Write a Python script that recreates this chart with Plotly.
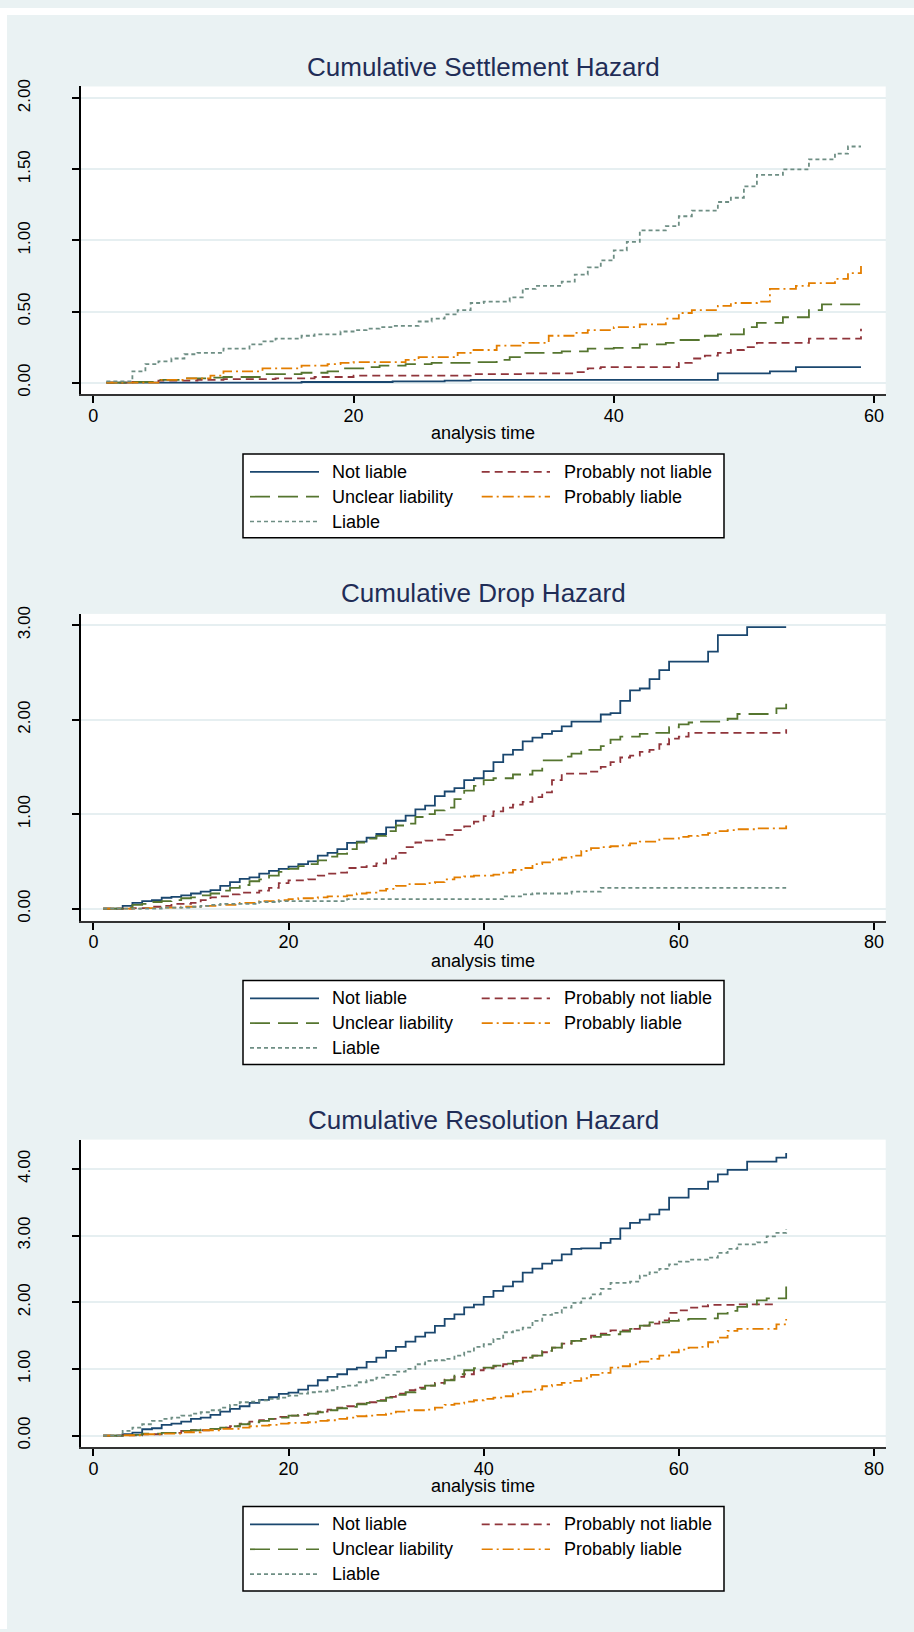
import plotly.graph_objects as go

W, H = 914, 1632
FONT = "Liberation Sans, Arial, sans-serif"

# ---------------- data ----------------
series_names = ["Not liable", "Probably not liable", "Unclear liability",
                "Probably liable", "Liable"]
series_colors = ["#1a476f", "#90353b", "#55752f", "#e37e00", "#6e8e84"]
series_dashes = ["solid", "8px,5px", "20px,8px", "11px,4px,2px,4px", "4px,3px"]

panel_titles = ["Cumulative Settlement Hazard", "Cumulative Drop Hazard",
                "Cumulative Resolution Hazard"]
x_title = "analysis time"

x_ticks_settle = [0, 20, 40, 60]
x_ticks_drop = [0, 20, 40, 60, 80]
x_ticks_resol = [0, 20, 40, 60, 80]
y_ticks_settle = [0, 0.5, 1.0, 1.5, 2.0]
y_ticks_drop = [0, 1, 2, 3]
y_ticks_resol = [0, 1, 2, 3, 4]

# (analysis time, cumulative hazard) step points
settle_not_liable = [(1, 0), (16, 0.005), (23, 0.01), (27, 0.015), (29, 0.02),
                     (48, 0.065), (52, 0.08), (54, 0.11), (59, 0.11)]
settle_prob_not = [(1, 0), (3, 0.005), (5, 0.015), (8, 0.02), (10, 0.025), (14, 0.03),
                   (17, 0.04), (20, 0.05), (29, 0.06), (33, 0.065), (37, 0.075),
                   (38, 0.10), (39, 0.11), (45, 0.14), (46, 0.17), (47, 0.19),
                   (48, 0.21), (49, 0.23), (50, 0.25), (51, 0.28), (55, 0.31), (59, 0.38)]
settle_unclear = [(1, 0), (3, 0.005), (5, 0.02), (7, 0.03), (9, 0.035), (10, 0.04),
                  (13, 0.06), (16, 0.07), (18, 0.08), (19, 0.10), (21, 0.11), (22, 0.12),
                  (24, 0.13), (26, 0.14), (29, 0.145), (31, 0.16), (32, 0.18), (33, 0.21),
                  (36, 0.22), (38, 0.24), (40, 0.245), (42, 0.27), (44, 0.28), (45, 0.30),
                  (47, 0.33), (48, 0.34), (50, 0.39), (51, 0.42), (53, 0.46), (55, 0.51),
                  (56, 0.55), (59, 0.55)]
settle_prob_liable = [(1, 0), (5, 0.02), (7, 0.03), (9, 0.05), (10, 0.08), (13, 0.10),
                      (16, 0.12), (18, 0.13), (19, 0.14), (20, 0.145), (24, 0.16),
                      (25, 0.18), (28, 0.21), (29, 0.23), (31, 0.26), (33, 0.28),
                      (35, 0.33), (37, 0.35), (38, 0.37), (40, 0.39), (42, 0.41),
                      (44, 0.45), (45, 0.49), (46, 0.51), (48, 0.54), (49, 0.56),
                      (51, 0.57), (52, 0.66), (54, 0.68), (55, 0.70), (57, 0.73),
                      (58, 0.77), (59, 0.82)]
settle_liable = [(1, 0.01), (3, 0.08), (4, 0.13), (5, 0.15), (6, 0.17), (7, 0.20), (8, 0.21),
                 (10, 0.24), (12, 0.27), (13, 0.29), (14, 0.31), (16, 0.33), (17, 0.34),
                 (19, 0.36), (20, 0.37), (21, 0.38), (22, 0.39), (23, 0.40), (25, 0.43),
                 (26, 0.45), (27, 0.48), (28, 0.51), (29, 0.56), (30, 0.57), (32, 0.60),
                 (33, 0.66), (34, 0.68), (36, 0.71), (37, 0.76), (38, 0.81), (39, 0.86),
                 (40, 0.93), (41, 0.99), (42, 1.07), (44, 1.10), (45, 1.17), (46, 1.21),
                 (48, 1.27), (49, 1.30), (50, 1.38), (51, 1.46), (53, 1.50), (55, 1.57),
                 (57, 1.61), (58, 1.66), (59, 1.66)]

drop_not_liable = [(1, 0), (3, 0.03), (4, 0.06), (5, 0.08), (6, 0.09), (7, 0.115), (8, 0.125),
                   (9, 0.14), (10, 0.16), (11, 0.18), (12, 0.195), (13, 0.24), (14, 0.28),
                   (15, 0.315), (16, 0.33), (17, 0.37), (18, 0.40), (19, 0.42), (20, 0.445),
                   (21, 0.47), (22, 0.50), (23, 0.56), (24, 0.59), (25, 0.63), (26, 0.695),
                   (27, 0.71), (28, 0.75), (29, 0.79), (30, 0.86), (31, 0.93), (32, 0.985),
                   (33, 1.05), (34, 1.09), (35, 1.19), (36, 1.24), (37, 1.275), (38, 1.36),
                   (39, 1.38), (40, 1.455), (41, 1.55), (42, 1.63), (43, 1.68), (44, 1.77),
                   (45, 1.81), (46, 1.85), (47, 1.88), (48, 1.93), (49, 1.98), (52, 2.055),
                   (53, 2.07), (54, 2.20), (55, 2.31), (56, 2.33), (57, 2.43), (58, 2.525),
                   (59, 2.615), (63, 2.72), (64, 2.895), (67, 2.98), (71, 2.98)]
drop_prob_not = [(1, 0), (4, 0.005), (6, 0.02), (7, 0.03), (8, 0.05), (10, 0.06), (11, 0.09),
                 (12, 0.12), (13, 0.13), (14, 0.15), (15, 0.17), (17, 0.19), (18, 0.22),
                 (19, 0.27), (20, 0.30), (22, 0.31), (23, 0.35), (24, 0.37), (25, 0.38),
                 (26, 0.43), (27, 0.44), (28, 0.45), (29, 0.48), (30, 0.53), (31, 0.59),
                 (32, 0.65), (33, 0.70), (34, 0.72), (35, 0.73), (36, 0.78), (37, 0.83),
                 (38, 0.87), (39, 0.92), (40, 0.98), (41, 1.03), (42, 1.07), (43, 1.10),
                 (44, 1.13), (45, 1.18), (46, 1.23), (47, 1.36), (48, 1.43), (51, 1.45),
                 (52, 1.50), (53, 1.55), (54, 1.60), (55, 1.62), (56, 1.66), (57, 1.68),
                 (58, 1.74), (59, 1.80), (60, 1.82), (61, 1.86), (71, 1.90)]
drop_unclear = [(1, 0), (3, 0.01), (4, 0.04), (5, 0.05), (6, 0.07), (7, 0.08), (8, 0.09),
                (9, 0.11), (10, 0.12), (11, 0.14), (12, 0.16), (13, 0.19), (14, 0.22),
                (15, 0.25), (16, 0.29), (17, 0.31), (18, 0.35), (19, 0.39), (20, 0.42),
                (21, 0.45), (22, 0.47), (23, 0.51), (24, 0.55), (25, 0.58), (26, 0.63),
                (27, 0.70), (28, 0.74), (29, 0.77), (30, 0.82), (31, 0.88), (32, 0.90),
                (33, 0.97), (34, 1.00), (35, 1.04), (36, 1.07), (37, 1.16), (38, 1.25),
                (39, 1.30), (40, 1.36), (41, 1.38), (43, 1.42), (45, 1.46), (46, 1.57),
                (48, 1.61), (49, 1.64), (50, 1.68), (52, 1.72), (53, 1.79), (54, 1.82),
                (56, 1.85), (57, 1.86), (59, 1.92), (60, 1.95), (61, 1.97), (62, 1.98),
                (65, 2.01), (66, 2.06), (70, 2.12), (71, 2.22)]
drop_prob_liable = [(1, 0), (5, 0.005), (7, 0.01), (9, 0.02), (11, 0.03), (13, 0.04),
                    (15, 0.06), (17, 0.08), (19, 0.09), (20, 0.10), (21, 0.11), (23, 0.12),
                    (24, 0.13), (26, 0.14), (27, 0.16), (28, 0.17), (29, 0.19), (30, 0.21),
                    (31, 0.24), (32, 0.26), (34, 0.27), (35, 0.28), (36, 0.31), (37, 0.33),
                    (38, 0.34), (39, 0.35), (41, 0.36), (42, 0.38), (43, 0.41), (44, 0.43),
                    (45, 0.47), (46, 0.49), (47, 0.52), (48, 0.54), (49, 0.56), (50, 0.61),
                    (51, 0.64), (52, 0.65), (53, 0.66), (54, 0.67), (55, 0.69), (56, 0.71),
                    (58, 0.74), (60, 0.76), (61, 0.77), (62, 0.78), (63, 0.80), (64, 0.82),
                    (65, 0.83), (66, 0.84), (68, 0.85), (71, 0.88)]
drop_liable = [(1, 0), (7, 0.01), (10, 0.02), (11, 0.03), (12, 0.04), (13, 0.05), (17, 0.07),
               (19, 0.08), (26, 0.10), (42, 0.13), (44, 0.15), (45, 0.16), (49, 0.18),
               (52, 0.22), (71, 0.22)]

resol_not_liable = [(1, 0), (3, 0.02), (4, 0.045), (5, 0.095), (6, 0.11), (7, 0.16), (8, 0.18),
                    (9, 0.21), (10, 0.25), (11, 0.27), (12, 0.31), (13, 0.36), (14, 0.40),
                    (15, 0.44), (16, 0.49), (17, 0.535), (18, 0.575), (19, 0.625), (20, 0.645),
                    (21, 0.69), (22, 0.75), (23, 0.83), (24, 0.88), (25, 0.92), (26, 0.995),
                    (27, 1.02), (28, 1.105), (29, 1.17), (30, 1.27), (31, 1.33), (32, 1.41),
                    (33, 1.485), (34, 1.545), (35, 1.645), (36, 1.75), (37, 1.82), (38, 1.925),
                    (39, 1.965), (40, 2.08), (41, 2.17), (42, 2.24), (43, 2.31), (44, 2.445),
                    (45, 2.505), (46, 2.58), (47, 2.63), (48, 2.72), (49, 2.80), (50, 2.81),
                    (52, 2.89), (53, 2.95), (54, 3.11), (55, 3.19), (56, 3.24), (57, 3.32),
                    (58, 3.39), (59, 3.57), (61, 3.70), (63, 3.81), (64, 3.92), (65, 3.985),
                    (67, 4.11), (70, 4.17), (71, 4.24)]
resol_prob_not = [(1, 0), (3, 0.005), (5, 0.02), (7, 0.04), (9, 0.07), (10, 0.08), (12, 0.10),
                  (13, 0.12), (14, 0.14), (15, 0.18), (16, 0.21), (17, 0.23), (18, 0.25),
                  (19, 0.28), (20, 0.30), (21, 0.31), (22, 0.33), (23, 0.36), (24, 0.39),
                  (25, 0.42), (26, 0.44), (27, 0.48), (28, 0.50), (29, 0.53), (30, 0.58),
                  (31, 0.63), (32, 0.68), (33, 0.72), (34, 0.75), (35, 0.79), (36, 0.84),
                  (37, 0.88), (38, 0.92), (39, 0.98), (40, 1.01), (41, 1.04), (42, 1.07),
                  (43, 1.11), (44, 1.17), (45, 1.20), (46, 1.25), (47, 1.32), (48, 1.38),
                  (49, 1.42), (50, 1.45), (51, 1.50), (52, 1.53), (53, 1.58), (55, 1.60),
                  (56, 1.65), (57, 1.68), (58, 1.73), (59, 1.84), (60, 1.88), (61, 1.92),
                  (62, 1.94), (63, 1.96), (66, 1.97), (70, 1.97)]
resol_unclear = [(1, 0), (3, 0.01), (5, 0.03), (7, 0.04), (9, 0.07), (10, 0.08), (11, 0.09),
                 (12, 0.10), (13, 0.12), (14, 0.14), (15, 0.17), (16, 0.20), (17, 0.22),
                 (18, 0.25), (19, 0.27), (20, 0.30), (21, 0.31), (22, 0.33), (23, 0.35),
                 (24, 0.38), (25, 0.41), (26, 0.43), (27, 0.47), (28, 0.49), (29, 0.52),
                 (30, 0.57), (31, 0.61), (32, 0.65), (33, 0.70), (34, 0.75), (35, 0.78),
                 (36, 0.83), (37, 0.92), (38, 0.98), (39, 1.01), (40, 1.02), (41, 1.05),
                 (42, 1.08), (43, 1.12), (44, 1.17), (45, 1.20), (46, 1.27), (47, 1.32),
                 (48, 1.38), (49, 1.42), (50, 1.45), (51, 1.48), (52, 1.51), (53, 1.52),
                 (54, 1.56), (55, 1.60), (56, 1.65), (57, 1.70), (59, 1.72), (60, 1.74),
                 (61, 1.75), (63, 1.76), (64, 1.83), (65, 1.87), (66, 1.93), (67, 1.97),
                 (68, 2.03), (69, 2.06), (71, 2.27)]
resol_prob_liable = [(1, 0), (3, 0.005), (5, 0.02), (7, 0.03), (9, 0.05), (11, 0.08), (13, 0.10),
                     (15, 0.12), (16, 0.14), (17, 0.15), (18, 0.16), (19, 0.18), (20, 0.19),
                     (22, 0.20), (23, 0.22), (24, 0.23), (25, 0.25), (26, 0.27), (27, 0.29),
                     (28, 0.30), (29, 0.31), (30, 0.33), (31, 0.36), (32, 0.38), (34, 0.39),
                     (35, 0.42), (36, 0.46), (37, 0.48), (38, 0.51), (39, 0.53), (40, 0.55),
                     (41, 0.57), (42, 0.59), (43, 0.63), (44, 0.66), (45, 0.69), (46, 0.74),
                     (47, 0.76), (48, 0.79), (49, 0.82), (50, 0.86), (51, 0.91), (52, 0.94),
                     (53, 1.02), (54, 1.04), (55, 1.07), (56, 1.11), (57, 1.15), (58, 1.20),
                     (59, 1.25), (60, 1.29), (61, 1.32), (62, 1.33), (63, 1.40), (64, 1.47),
                     (65, 1.57), (66, 1.60), (69, 1.60), (70, 1.67), (71, 1.75)]
resol_liable = [(1, 0), (3, 0.07), (4, 0.12), (5, 0.17), (6, 0.22), (7, 0.25), (8, 0.27),
                (9, 0.30), (10, 0.33), (11, 0.35), (12, 0.38), (13, 0.42), (14, 0.46),
                (15, 0.50), (16, 0.51), (17, 0.53), (18, 0.55), (19, 0.57), (20, 0.60),
                (21, 0.63), (22, 0.65), (23, 0.66), (24, 0.68), (25, 0.73), (26, 0.75),
                (27, 0.80), (28, 0.83), (29, 0.87), (30, 0.91), (31, 0.96), (32, 1.00),
                (33, 1.07), (34, 1.12), (35, 1.13), (36, 1.15), (37, 1.20), (38, 1.26),
                (39, 1.33), (40, 1.37), (41, 1.45), (42, 1.55), (43, 1.58), (44, 1.62),
                (45, 1.72), (46, 1.81), (47, 1.84), (48, 1.92), (49, 1.99), (50, 2.06),
                (51, 2.12), (52, 2.20), (53, 2.29), (55, 2.31), (56, 2.40), (57, 2.45),
                (58, 2.50), (59, 2.57), (60, 2.61), (61, 2.64), (63, 2.67), (64, 2.74),
                (65, 2.80), (66, 2.87), (68, 2.90), (69, 2.99), (70, 3.04), (71, 3.10)]

# ---------------- layout (pixel geometry) ----------------
PLOT_L, PLOT_R = 81, 885.7
panels = [
    dict(title=panel_titles[0],
         series=[settle_not_liable, settle_prob_not, settle_unclear, settle_prob_liable, settle_liable],
         xticks=x_ticks_settle, yticks=y_ticks_settle,
         xrange=[-0.95, 60.9], yrange=[-0.08, 2.082],
         top=79, bottom=388.7, title_y=59, xtitle_y=428, legend_top=449, legend_bottom=533.3),
    dict(title=panel_titles[1],
         series=[drop_not_liable, drop_prob_not, drop_unclear, drop_prob_liable, drop_liable],
         xticks=x_ticks_drop, yticks=y_ticks_drop,
         xrange=[-1.27, 81.2], yrange=[-0.129, 3.12],
         top=610, bottom=919, title_y=589, xtitle_y=959, legend_top=979, legend_bottom=1063.7),
    dict(title=panel_titles[2],
         series=[resol_not_liable, resol_prob_not, resol_unclear, resol_prob_liable, resol_liable],
         xticks=x_ticks_resol, yticks=y_ticks_resol,
         xrange=[-1.27, 81.2], yrange=[-0.17, 4.44],
         top=1139.3, bottom=1448.7, title_y=1120, xtitle_y=1488.5, legend_top=1508.7, legend_bottom=1593.7),
]


def px(x):
    return x / W


def py(y):
    return 1 - y / H


fig = go.Figure()
shapes = []
annotations = []

# white strips at top and left like the reference
shapes.append(dict(type="rect", xref="paper", yref="paper", x0=0, x1=px(7), y0=0, y1=1,
                   fillcolor="white", line=dict(width=0), layer="above"))
shapes.append(dict(type="rect", xref="paper", yref="paper", x0=0, x1=1, y0=py(7), y1=1,
                   fillcolor="white", line=dict(width=0), layer="above"))

# legend layout (pixels)
LEG_L, LEG_R = 243, 724
col_line = [(250, 319), (481.7, 550)]
col_text = [330, 561.7]
row_off = [18.0, 43.0, 68.0]
legend_order = [0, 1, 2, 3, 4]

for i, p in enumerate(panels, start=1):
    sfx = "" if i == 1 else str(i)
    xa, ya = "x" + sfx, "y" + sfx
    for name, color, dash, pts in zip(series_names, series_colors, series_dashes, p["series"]):
        fig.add_trace(go.Scatter(
            x=[a for a, _ in pts], y=[b for _, b in pts], mode="lines", name=name,
            line=dict(shape="hv", color=color, width=1.8, dash=dash),
            xaxis=xa, yaxis=ya, showlegend=False, hoverinfo="skip"))

    fig.layout["xaxis" + sfx] = dict(
        domain=[px(PLOT_L), px(PLOT_R)], anchor=ya, range=p["xrange"],
        tickmode="array", tickvals=p["xticks"], ticktext=[str(v) for v in p["xticks"]],
        ticks="outside", ticklen=7, tickwidth=1.5, tickcolor="black",
        showline=True, linecolor="#333333", linewidth=2,
        showgrid=False, zeroline=False, ticklabelstandoff=-3,
        tickfont=dict(family=FONT, size=18, color="black"), fixedrange=True)
    fig.layout["yaxis" + sfx] = dict(
        domain=[py(p["bottom"]), py(p["top"])], anchor=xa, range=p["yrange"],
        tickmode="array", tickvals=p["yticks"], ticktext=["%.2f" % v for v in p["yticks"]],
        tickangle=-90, ticks="outside", ticklen=7, tickwidth=1.5, tickcolor="black",
        showline=True, linecolor="black", linewidth=1.5,
        showgrid=True, gridcolor="#e6eff1", gridwidth=1.5, zeroline=False,
        ticklabelstandoff=35,
        tickfont=dict(family=FONT, size=17, color="black"), fixedrange=True)

    # panel title and x-axis title
    annotations.append(dict(text=p["title"], xref="paper", yref="paper",
                            x=px((PLOT_L + PLOT_R) / 2), y=py(p["title_y"]),
                            xanchor="center", yanchor="middle", showarrow=False,
                            font=dict(family=FONT, size=26, color="#1f2d57")))
    annotations.append(dict(text=x_title, xref="paper", yref="paper",
                            x=px((PLOT_L + PLOT_R) / 2), y=py(p["xtitle_y"]),
                            xanchor="center", yanchor="middle", showarrow=False,
                            font=dict(family=FONT, size=18, color="black")))

    # legend box
    shapes.append(dict(type="rect", xref="paper", yref="paper",
                       x0=px(LEG_L), x1=px(LEG_R), y0=py(p["legend_bottom"]), y1=py(p["legend_top"]),
                       fillcolor="white", line=dict(color="black", width=1.5), layer="above"))
    for k, si in enumerate(legend_order):
        r, c = divmod(k, 2)
        yy = py(p["legend_top"] + row_off[r])
        shapes.append(dict(type="line", xref="paper", yref="paper",
                           x0=px(col_line[c][0]), x1=px(col_line[c][1]), y0=yy, y1=yy,
                           line=dict(color=series_colors[si], width=1.7, dash=series_dashes[si]),
                           layer="above"))
        annotations.append(dict(text=series_names[si], xref="paper", yref="paper",
                                x=px(col_text[c]), y=yy, xanchor="left", yanchor="middle",
                                showarrow=False,
                                font=dict(family=FONT, size=18, color="black")))

fig.update_layout(
    width=W, height=H, autosize=False,
    margin=dict(l=0, r=0, t=0, b=0),
    paper_bgcolor="#eaf2f3", plot_bgcolor="white",
    font=dict(family=FONT, size=18, color="black"),
    shapes=shapes, annotations=annotations, showlegend=False,
)

fig.write_html("out.html", config={"displayModeBar": False})
